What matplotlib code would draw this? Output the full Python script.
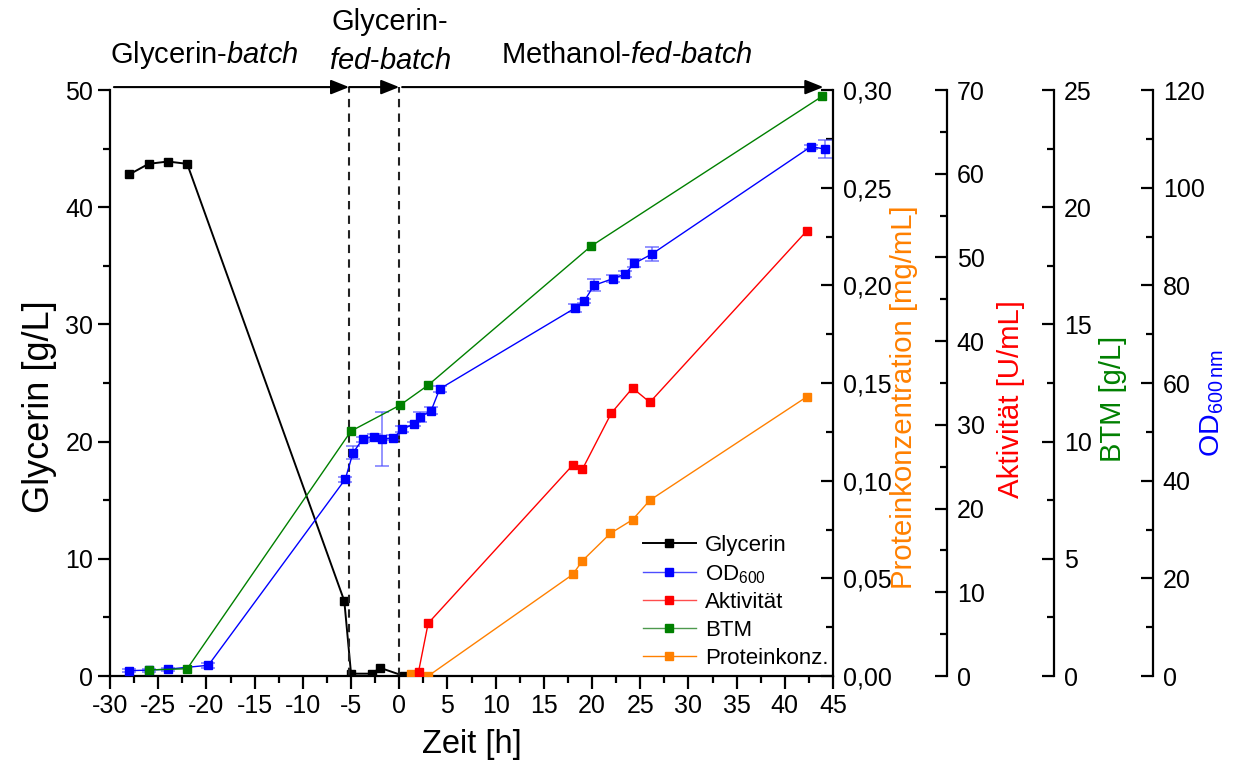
import matplotlib
matplotlib.use("Agg")
import matplotlib.pyplot as plt
from matplotlib.ticker import MultipleLocator, FuncFormatter
from matplotlib.lines import Line2D

plt.rcParams['font.family'] = ['Liberation Sans', 'DejaVu Sans']
plt.rcParams['mathtext.fontset'] = 'custom'
plt.rcParams['mathtext.rm'] = 'Liberation Sans'
plt.rcParams['mathtext.it'] = 'Liberation Sans:italic'
plt.rcParams['axes.unicode_minus'] = False

# Glycerin [g/L]
glyc_t = [-28.0, -26.0, -24.0, -22.0, -5.7, -5.0, -2.8, -2.0, 0.5]
glyc = [42.8, 43.7, 43.9, 43.7, 6.4, 0.2, 0.2, 0.7, 0.0]

# OD600
od_t = [-28.0, -26.0, -24.0, -19.8, -5.6, -4.8, -3.8, -2.6, -1.8, -0.6, 0.3, 1.5,
        2.2, 3.3, 4.2, 18.2, 19.2, 20.2, 22.2, 23.4, 24.4, 26.2, 42.7, 44.2]
od = [1.1, 1.2, 1.4, 2.2, 40.3, 45.7, 48.5, 49.0, 48.5, 48.8, 50.5, 51.6,
      53.1, 54.3, 58.8, 75.3, 76.8, 80.0, 81.4, 82.3, 84.5, 86.4, 108.4, 107.9]
od_err = [0.3, 0.3, 0.3, 0.5, 0.5, 1.3, 0.5, 0.6, 5.5, 0.5, 0.6, 0.5,
          1.0, 0.7, 0.6, 0.8, 0.5, 1.2, 0.8, 0.6, 0.8, 1.5, 0.4, 1.8]

# Aktivität [U/mL]
akt_t = [2.0, 3.0, 18.0, 19.0, 22.0, 24.2, 26.0, 42.3]
akt = [0.5, 6.3, 25.2, 24.7, 31.4, 34.4, 32.7, 53.2]

# BTM [g/L]
btm_t = [-26.0, -22.0, -5.0, 0.1, 3.0, 19.9, 43.9]
btm = [0.26, 0.31, 10.45, 11.56, 12.41, 18.34, 24.74]

# Proteinkonzentration [mg/mL]
prot_t = [1.2, 3.0, 18.0, 19.0, 21.9, 24.2, 26.0, 42.3]
prot = [0.001, 0.0, 0.052, 0.059, 0.073, 0.080, 0.090, 0.143]

phase_edges = [-30.0, -5.2, 0.0, 44.0]

ORANGE = '#FF8000'
GREEN = '#008000'

fig = plt.figure(figsize=(12.45, 7.74), dpi=100)
ax = fig.add_axes([0.0884, 0.1266, 0.5807, 0.7571])

tick_fs = 18
lab_fs = 23.5


def comma(v, p):
    return f"{v:.2f}".replace('.', ',')


def style_right(a, pos, lo, hi, major, minor):
    a.spines['right'].set_position(('axes', pos))
    for s in ['top', 'left', 'bottom']:
        a.spines[s].set_visible(False)
    a.spines['right'].set_linewidth(1.6)
    a.set_ylim(lo, hi)
    a.yaxis.set_major_locator(MultipleLocator(major))
    a.yaxis.set_minor_locator(MultipleLocator(minor))
    a.tick_params(axis='y', which='both', direction='in', width=1.6,
                  labelsize=tick_fs, pad=7)
    a.tick_params(axis='y', which='major', length=9)
    a.tick_params(axis='y', which='minor', length=5)


# main axis: Glycerin
ax.set_xlim(-30, 45)
ax.set_ylim(0, 50)
ax.spines['top'].set_visible(False)
ax.spines['right'].set_visible(False)
for s in ['left', 'bottom']:
    ax.spines[s].set_linewidth(1.6)
ax.xaxis.set_major_locator(MultipleLocator(5))
ax.xaxis.set_minor_locator(MultipleLocator(2.5))
ax.yaxis.set_major_locator(MultipleLocator(10))
ax.yaxis.set_minor_locator(MultipleLocator(5))
ax.tick_params(which='both', direction='out', width=1.6, labelsize=tick_fs)
ax.tick_params(which='major', length=9)
ax.tick_params(which='minor', length=5)
ax.tick_params(axis='x', pad=4)
ax.tick_params(axis='y', pad=3)
ax.set_xlabel('Zeit [h]', fontsize=lab_fs, labelpad=8)
ax.set_ylabel('Glycerin [g/L]', fontsize=26)
ax.yaxis.set_label_coords(-0.073, 0.46)

ax.plot(glyc_t, glyc, '-s', color='black', lw=1.4, ms=6, label='Glycerin')

# phase separators and arrows
y_arrow = 50.25
for xe in phase_edges[1:3]:
    ax.plot([xe, xe], [0, y_arrow], ls=(0, (4, 3)), color='#222222', lw=1.5, clip_on=False)
for x0, x1 in [(-29.6, -5.2), (-5.2, 0.0), (0.3, 44.0)]:
    ax.annotate('', xy=(x1, y_arrow), xytext=(x0, y_arrow),
                arrowprops=dict(arrowstyle='-|>,head_length=0.55,head_width=0.22',
                                color='black', lw=1.5, mutation_scale=20,
                                shrinkA=0, shrinkB=0),
                annotation_clip=False)

ax.text(-20.2, 53.0, r'Glycerin-$\mathit{batch}$', fontsize=21, ha='center', va='center')
ax.text(-1.0, 55.8, 'Glycerin-', fontsize=21, ha='center', va='center')
ax.text(-1.0, 52.5, r'$\mathit{fed}$-$\mathit{batch}$', fontsize=21, ha='center', va='center')
ax.text(23.6, 53.0, r'Methanol-$\mathit{fed}$-$\mathit{batch}$', fontsize=21, ha='center', va='center')

# right axes
ax_p = ax.twinx()
style_right(ax_p, 1.0, 0, 0.30, 0.05, 0.025)
ax_p.yaxis.set_major_formatter(FuncFormatter(comma))
ax_p.plot(prot_t, prot, '-s', color=ORANGE, lw=1.0, ms=6, label='Proteinkonz.')
ax_p.set_ylabel('Proteinkonzentration [mg/mL]', color=ORANGE, fontsize=21.2)
ax_p.yaxis.set_label_coords(1.079, 0.475)

ax_a = ax.twinx()
style_right(ax_a, 1.1577, 0, 70, 10, 5)
ax_a.plot(akt_t, akt, '-s', color='red', lw=1.0, ms=6, label='Aktivität')
ax_a.set_ylabel('Aktivität [U/mL]', color='red', fontsize=21.2)
ax_a.yaxis.set_label_coords(1.227, 0.473)

ax_o = ax.twinx()
style_right(ax_o, 1.4426, 0, 120, 20, 10)
ax_o.errorbar(od_t, od, yerr=od_err, fmt='-s', color='blue', lw=1.0, ms=6,
              ecolor=(0.3, 0.3, 1.0, 0.7), elinewidth=1.2, capsize=5, capthick=1.2,
              label=r'OD$_{600}$')
ax_o.set_ylabel(r'OD$_{600\,\mathrm{nm}}$', color='blue', fontsize=20.5)
ax_o.yaxis.set_label_coords(1.505, 0.465)

ax_b = ax.twinx()
style_right(ax_b, 1.3057, 0, 25, 5, 2.5)
ax_b.plot(btm_t, btm, '-s', color=GREEN, lw=1.0, ms=6, label='BTM')
ax_b.set_ylabel('BTM [g/L]', color=GREEN, fontsize=21)
ax_b.yaxis.set_label_coords(1.368, 0.473)

handles = [
    Line2D([], [], color='black', lw=1.4, marker='s', ms=6),
    Line2D([], [], color=(0.3, 0.3, 1.0), lw=1.0, marker='s', ms=6, mfc='blue', mec='blue'),
    Line2D([], [], color=(1.0, 0.3, 0.3), lw=1.0, marker='s', ms=6, mfc='red', mec='red'),
    Line2D([], [], color=(0.3, 0.6, 0.3), lw=1.0, marker='s', ms=6, mfc=GREEN, mec=GREEN),
    Line2D([], [], color=ORANGE, lw=1.0, marker='s', ms=6),
]
labels = ['Glycerin', r'OD$_{600}$', 'Aktivität', 'BTM', 'Proteinkonz.']
ax_b.legend(handles, labels, loc='lower right', bbox_to_anchor=(1.012, -0.01),
            frameon=False, fontsize=16, handlelength=2.4, handletextpad=0.4,
            labelspacing=0.3, borderaxespad=0.2)

fig.savefig('out.png', dpi=100)
